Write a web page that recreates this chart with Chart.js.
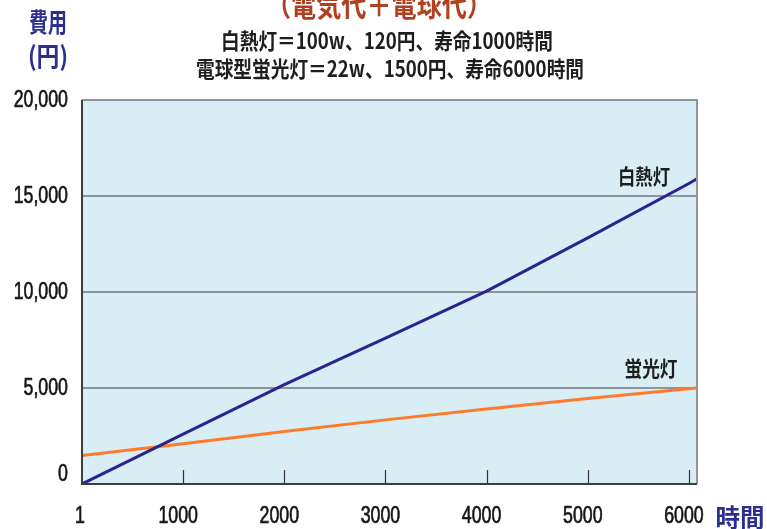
<!DOCTYPE html>
<html>
<head>
<meta charset="utf-8">
<script src="https://cdn.jsdelivr.net/npm/chart.js@4/dist/chart.umd.min.js"></script>
<style>
  html, body { margin: 0; padding: 0; background: #ffffff; }
  canvas { display: block; }
</style>
</head>
<body>
<canvas id="c" width="767" height="529"></canvas>
<script>
// Operating hours and cumulative cost (electricity + bulbs), yen
const hours = [0, 1000, 2000, 3000, 4000, 5000, 6000, 6080];
const incandescentCost = [0, 2600, 5180, 7600, 10050, 12820, 15650, 15900];
const fluorescentCost = [1480, 2100, 2730, 3340, 3910, 4450, 4960, 5000];

const xTickValues = [0, 1000, 2000, 3000, 4000, 5000, 6000];
const xTickLabels = ['1', '1000', '2000', '3000', '4000', '5000', '6000'];
const yTickValues = [0, 5000, 10000, 15000, 20000];

const seriesNames = ['白熱灯', '蛍光灯'];
const titleText = '（電気代＋電球代）';
const subtitle1 = '白熱灯＝100w、120円、寿命1000時間';
const subtitle2 = '電球型蛍光灯＝22w、1500円、寿命6000時間';
const yAxisTitle = ['費用', '(円)'];
const xAxisTitle = '時間';

const NUM_FONT = "24px 'Liberation Sans', Arial, sans-serif";
const NUM_SQUEEZE = 0.74;
const JP_FONT = "'Noto Sans CJK JP', 'Noto Sans CJK SC', sans-serif";

function toPoints(xs, ys) {
  return xs.map((x, i) => ({ x: x, y: ys[i] }));
}

// Draws text centred at (cx, cy), squeezed horizontally to the given width
function fittedText(ctx, text, cx, cy, width, font, color) {
  ctx.save();
  ctx.font = font;
  ctx.fillStyle = color;
  ctx.textAlign = 'center';
  ctx.textBaseline = 'middle';
  const w = ctx.measureText(text).width;
  const sx = width ? Math.min(1, width / w) : 1;
  ctx.translate(cx, cy);
  ctx.scale(sx, 1);
  ctx.fillText(text, 0, 0);
  ctx.restore();
}

// Condensed numeric label anchored at (x, y)
function squeezedText(ctx, text, x, y, align) {
  ctx.save();
  ctx.font = NUM_FONT;
  ctx.fillStyle = '#151515';
  ctx.strokeStyle = '#151515';
  ctx.lineWidth = 0.7;
  ctx.textAlign = align;
  ctx.textBaseline = 'middle';
  ctx.translate(x, y);
  ctx.scale(NUM_SQUEEZE, 1);
  ctx.fillText(text, 0, 0);
  ctx.strokeText(text, 0, 0);
  ctx.restore();
}

const plotDecor = {
  id: 'plotDecor',
  beforeDraw(chart) {
    const { ctx, chartArea: a } = chart;
    ctx.save();
    ctx.fillStyle = '#d8eef4';
    ctx.fillRect(a.left, a.top, a.right - a.left, a.bottom - a.top);
    ctx.restore();
  },
  afterDatasetsDraw(chart) {
    const { ctx, chartArea: a, scales } = chart;
    ctx.save();
    // short upward tick marks along the bottom axis
    ctx.strokeStyle = '#333333';
    ctx.lineWidth = 1.2;
    xTickValues.slice(1).forEach(v => {
      const px = Math.round(scales.x.getPixelForValue(v)) + 0.5;
      ctx.beginPath();
      ctx.moveTo(px, a.bottom);
      ctx.lineTo(px, a.bottom - 14);
      ctx.stroke();
    });
    // frame
    ctx.strokeStyle = '#8a9698';
    ctx.lineWidth = 2;
    ctx.beginPath();
    ctx.moveTo(a.left, a.top);
    ctx.lineTo(a.right, a.top);
    ctx.lineTo(a.right, a.bottom);
    ctx.stroke();
    ctx.strokeStyle = '#3a3f40';
    ctx.lineWidth = 2;
    ctx.beginPath();
    ctx.moveTo(a.left, a.top);
    ctx.lineTo(a.left, a.bottom);
    ctx.lineTo(a.right, a.bottom);
    ctx.stroke();
    ctx.restore();
  },
  afterDraw(chart) {
    const { ctx, scales } = chart;
    // axis tick labels, placed through the chart's scales
    yTickValues.forEach(v => {
      const py = scales.y.getPixelForValue(v) - (v === 0 ? 10 : 0);
      squeezedText(ctx, v.toLocaleString('en-US'), 68, py, 'right');
    });
    xTickValues.forEach((v, i) => {
      const px = scales.x.getPixelForValue(v) - (v === 0 ? 2 : 5);
      squeezedText(ctx, xTickLabels[i], px, 516, 'center');
    });

    fittedText(ctx, titleText, 379, 5, 226, "bold 30px " + JP_FONT, '#b0401f');
    fittedText(ctx, subtitle1, 387, 41, 332, "bold 22px " + JP_FONT, '#1e1e1e');
    fittedText(ctx, subtitle2, 390, 69, 388, "bold 22px " + JP_FONT, '#1e1e1e');
    fittedText(ctx, yAxisTitle[0], 48, 22, 38, "bold 26px " + JP_FONT, '#2b2f8f');
    fittedText(ctx, yAxisTitle[1], 48, 56, 40, "bold 26px " + JP_FONT, '#2b2f8f');
    fittedText(ctx, xAxisTitle, 740, 517, 49, "bold 25px " + JP_FONT, '#2b2f8f');
    fittedText(ctx, seriesNames[0], 644, 176, 52, "bold 21px " + JP_FONT, '#1e1e1e');
    fittedText(ctx, seriesNames[1], 651, 368, 53, "bold 21px " + JP_FONT, '#1e1e1e');
  }
};

new Chart(document.getElementById('c'), {
  type: 'line',
  data: {
    datasets: [
      {
        label: seriesNames[0],
        data: toPoints(hours, incandescentCost),
        borderColor: '#2b2390',
        borderWidth: 3,
        pointRadius: 0,
        tension: 0,
        fill: false
      },
      {
        label: seriesNames[1],
        data: toPoints(hours, fluorescentCost),
        borderColor: '#ff7a2a',
        borderWidth: 3,
        pointRadius: 0,
        tension: 0,
        fill: false
      }
    ]
  },
  options: {
    responsive: false,
    animation: false,
    devicePixelRatio: 1,
    layout: { padding: { top: 100, right: 70, bottom: 0, left: 0 } },
    plugins: {
      legend: { display: false },
      tooltip: { enabled: false },
      title: { display: false }
    },
    scales: {
      x: {
        type: 'linear',
        min: 0,
        max: 6080,
        afterBuildTicks(scale) {
          scale.ticks = xTickValues.map(v => ({ value: v }));
        },
        afterFit(scale) { scale.height = 45; },
        ticks: { display: false },
        grid: { display: false, drawTicks: false },
        border: { display: false }
      },
      y: {
        type: 'linear',
        min: 0,
        max: 20000,
        afterBuildTicks(scale) {
          scale.ticks = yTickValues.map(v => ({ value: v }));
        },
        afterFit(scale) { scale.width = 82; },
        ticks: { display: false },
        grid: {
          color: '#8a9698',
          lineWidth: 2,
          drawTicks: false
        },
        border: { display: false }
      }
    }
  },
  plugins: [plotDecor]
});
</script>
</body>
</html>
